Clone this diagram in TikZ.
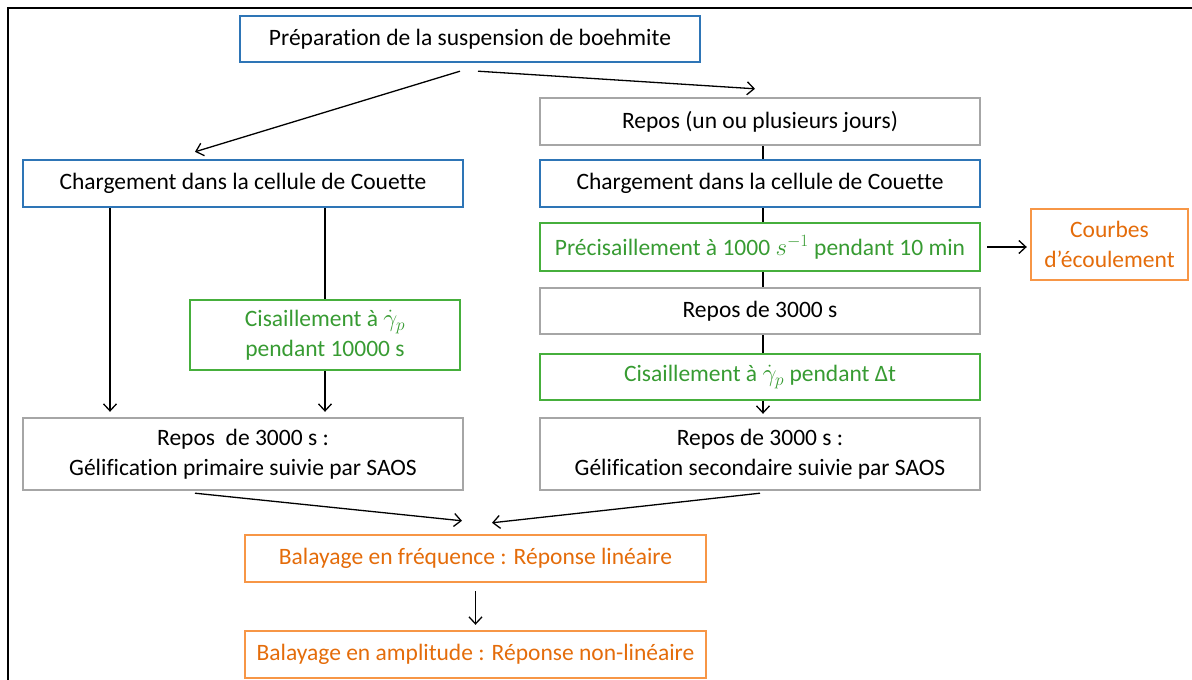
\documentclass[tikz,border=0pt]{standalone}
\usepackage{fontspec}
\setmainfont{Carlito}[Ligatures=NoCommon]
\usetikzlibrary{arrows.meta}
\definecolor{bblue}{RGB}{46,117,182}
\definecolor{bgreen}{RGB}{70,175,60}
\definecolor{tgreen}{RGB}{55,155,50}
\definecolor{borange}{RGB}{247,150,70}
\definecolor{torange}{RGB}{228,108,10}
\definecolor{bgray}{RGB}{166,166,166}
\tikzset{
  box/.style={draw, line width=2.4pt, align=center, inner sep=0pt,
    font=\fontsize{23.5}{30}\selectfont, text=black},
  bluebox/.style={box, draw=bblue},
  graybox/.style={box, draw=bgray},
  greenbox/.style={box, draw=bgreen, text=tgreen},
  orangebox/.style={box, draw=borange, text=torange},
  arr/.style={line width=1.3pt, -{Straight Barb[length=7pt,width=13pt]}},
  lnk/.style={line width=1.3pt}
}
\begin{document}
\begin{tikzpicture}[x=1pt,y=-1pt]
\useasboundingbox (0,0) rectangle (1192,680);
\draw[line width=2.2pt] (8,700) -- (8,8) -- (1210,8);
% nodes
\node[bluebox, minimum width=460, minimum height=46] (prep) at (470,39) {Préparation de la suspension de boehmite};
\node[bluebox, minimum width=440, minimum height=47] (chL) at (243,183.5) {Chargement dans la cellule de Couette};
\node[graybox, minimum width=440, minimum height=47] (repos1) at (760,121.5) {Repos (un ou plusieurs jours)};
\node[bluebox, minimum width=440, minimum height=47] (chR) at (760,183.5) {Chargement dans la cellule de Couette};
\node[greenbox, minimum width=440, minimum height=48] (preci) at (760,247) {Précisaillement à 1000 $s^{-1}$ pendant 10 min};
\node[orangebox, minimum width=157, minimum height=71] (courbes) at (1109.5,244.5) {Courbes\\d’écoulement};
\node[graybox, minimum width=440, minimum height=46] (rep3000) at (760,311) {Repos de 3000 s};
\node[greenbox, minimum width=440, minimum height=46] (cisR) at (760,377) {Cisaillement à $\dot{\gamma}_p$ pendant Δt};
\node[graybox, minimum width=440, minimum height=72] (gelR) at (760,454) {Repos de 3000 s :\\Gélification secondaire suivie par SAOS};
\node[greenbox, minimum width=270, minimum height=70] (cisL) at (325,335) {Cisaillement à $\dot{\gamma}_p$\\pendant 10000 s};
\node[graybox, minimum width=440, minimum height=72] (gelL) at (243,454) {Repos\ \ de 3000 s :\\Gélification primaire suivie par SAOS};
\node[orangebox, minimum width=461, minimum height=47] (balF) at (475.5,558.5) {Balayage en fréquence : Réponse linéaire};
\node[orangebox, minimum width=461, minimum height=47] (balA) at (475.5,654.5) {Balayage en amplitude : Réponse non-linéaire};
% connectors
\draw[arr] ([xshift=-10pt,yshift=-8pt]prep.south) -- ([xshift=-48pt,yshift=7pt]chL.north);
\draw[arr] ([xshift=8pt,yshift=-8pt]prep.south) -- ([xshift=-5pt,yshift=8pt]repos1.north);
\draw[arr] ([xshift=-133pt]chL.south) -- ([xshift=-133pt,yshift=5pt]gelL.north);
\draw[lnk] ([xshift=82pt]chL.south) -- (cisL.north);
\draw[arr] (cisL.south) -- ([xshift=82pt,yshift=5pt]gelL.north);
\draw[lnk] ([xshift=3pt]repos1.south) -- ([xshift=3pt]chR.north);
\draw[lnk] ([xshift=3pt]chR.south) -- ([xshift=3pt]preci.north);
\draw[lnk] ([xshift=3pt]preci.south) -- ([xshift=3pt]rep3000.north);
\draw[lnk] ([xshift=3pt]rep3000.south) -- ([xshift=3pt]cisR.north);
\draw[arr] ([xshift=3pt]cisR.south) -- ([xshift=3pt,yshift=3pt]gelR.north);
\draw[arr] ([xshift=6pt]preci.east) -- ([xshift=-3pt]preci.east -| courbes.west);
\draw[arr] ([xshift=-48pt,yshift=-2pt]gelL.south) -- ([xshift=-13.5pt,yshift=13pt]balF.north);
\draw[arr] ([yshift=-2pt]gelR.south) -- ([xshift=16.5pt,yshift=11pt]balF.north);
\draw[arr] ([yshift=-8pt]balF.south) -- ([yshift=5pt]balA.north);
\end{tikzpicture}
\end{document}
